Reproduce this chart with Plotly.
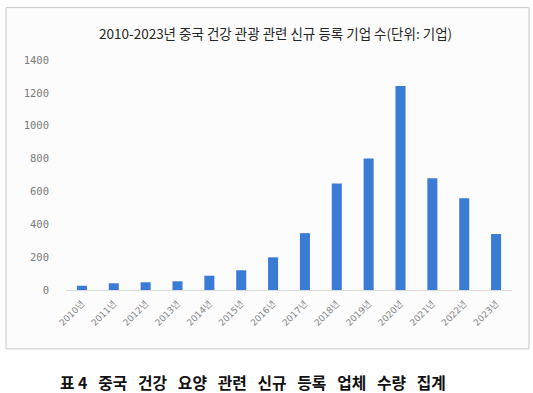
import plotly.graph_objects as go

years = ["2010년", "2011년", "2012년", "2013년", "2014년", "2015년", "2016년",
         "2017년", "2018년", "2019년", "2020년", "2021년", "2022년", "2023년"]
counts = [26, 41, 47, 53, 87, 120, 199, 346, 649, 801, 1242, 680, 558, 341]
y_ticks = [0, 200, 400, 600, 800, 1000, 1200, 1400]

title_text = "2010-2023년 중국 건강 관광 관련 신규 등록 기업 수(단위: 기업)"
caption_words = ["표\u00a04", "중국", "건강", "요양", "관련", "신규", "등록", "업체", "수량", "집계"]
caption_text = "\u00a0\u00a0\u00a0".join(caption_words)

W, H = 533, 393
L, R, T, B = 66.4, 21, 59.5, 103
pw, ph = W - L - R, H - T - B


def px(x):
    return (x - L) / pw


def py(y):
    return (H - B - y) / ph


fig = go.Figure()
fig.add_trace(go.Bar(
    x=years, y=counts,
    marker=dict(color="#3a7bd5", line=dict(width=0)),
    width=0.315,
))

fig.update_layout(
    width=W, height=H,
    margin=dict(l=L, r=R, t=T, b=B, pad=0),
    paper_bgcolor="white",
    plot_bgcolor="rgba(0,0,0,0)",
    showlegend=False,
    xaxis=dict(
        type="category",
        tickangle=-45,
        tickfont=dict(family="DejaVu Sans, Noto Sans CJK KR", size=9, color="#858585"),
        showline=True, linecolor="#d9d9d9", linewidth=1,
        showgrid=False, zeroline=False,
        ticks="", ticklabelstandoff=4,
    ),
    yaxis=dict(
        range=[0, 1400],
        tickvals=y_ticks,
        tickfont=dict(family="DejaVu Sans Mono", size=10.5, color="#7a7a7a"),
        showgrid=False, zeroline=False, showline=False,
        ticks="", ticklabelstandoff=16,
    ),
    shapes=[dict(
        type="rect", xref="paper", yref="paper", layer="below",
        x0=px(6.5), x1=px(529), y0=py(349), y1=py(7),
        line=dict(color="#c8c8c8", width=1),
        fillcolor="#fcfcfc",
    )],
    annotations=[
        dict(
            text=title_text, xref="paper", yref="paper",
            x=px(275.5), y=py(32), xanchor="center", yanchor="middle",
            showarrow=False,
            font=dict(family="Noto Sans CJK KR", size=13.5, color="#262626"),
        ),
        dict(
            text="<b>" + caption_text + "</b>", xref="paper", yref="paper",
            x=px(58), y=py(382.5), xanchor="left", yanchor="middle",
            showarrow=False,
            font=dict(family="Noto Sans CJK KR", size=15.8, color="#111111"),
        ),
    ],
)

fig.write_html(
    "out.html",
    config={"displayModeBar": False},
    post_script="document.body.style.margin='0';document.body.style.overflow='hidden';",
)
